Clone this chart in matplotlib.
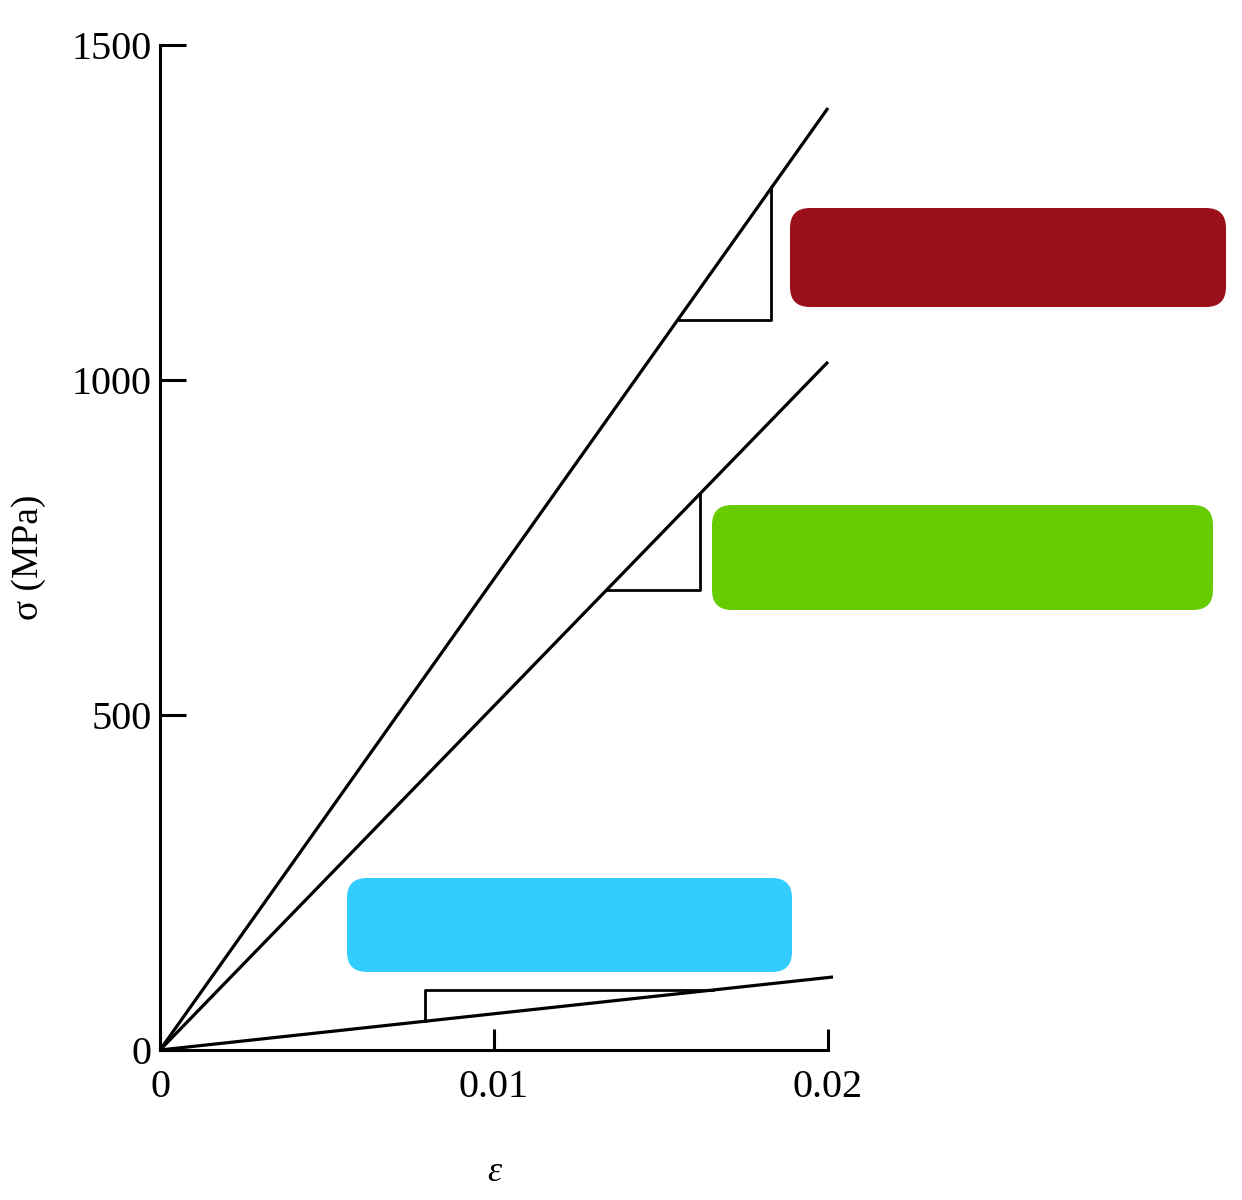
import matplotlib
matplotlib.use("Agg")
import matplotlib.pyplot as plt
from matplotlib.patches import FancyBboxPatch

plt.rcParams['font.family'] = ['Liberation Serif', 'DejaVu Serif']

# three straight stress-strain lines from the origin (end points)
line_eps = [[0, 0.0200], [0, 0.0200], [0, 0.02015]]
line_sig = [[0, 1406], [0, 1027], [0, 109]]

# slope triangles (polyline corners)
tri_eps = [[0.0155, 0.0183, 0.0183],
           [0.01338, 0.01617, 0.01617],
           [0.00793, 0.00793, 0.01655]]
tri_sig = [[1090, 1090, 1288],
           [687, 687, 830],
           [42.9, 89.5, 89.5]]

xticks = [0, 0.01, 0.02]
xtick_labels = ['0', '0.01', '0.02']
yticks = [0, 500, 1000, 1500]
ytick_labels = ['0', '500', '1000', '1500']

# label cover boxes: x0, y0 (top), x1, y1 (bottom) in pixels, colour
box_px = [(790, 208, 1226, 307), (712, 505, 1213, 610), (347, 878, 792, 972)]
box_colors = ['#9b0f1b', '#66cc00', '#33ccff']

W, H = 1242, 1200
fig = plt.figure(figsize=(W / 100, H / 100), dpi=100)
ax = fig.add_axes([160 / W, 150 / H, 668 / W, 1005 / H])

for e, s in zip(line_eps, line_sig):
    ax.plot(e, s, color='black', lw=2.3, clip_on=False, solid_capstyle='butt')
for e, s in zip(tri_eps, tri_sig):
    ax.plot(e, s, color='black', lw=2.0, clip_on=False)

ax.set_xlim(0, 0.02)
ax.set_ylim(0, 1500)
ax.spines['top'].set_visible(False)
ax.spines['right'].set_visible(False)
ax.spines['left'].set_linewidth(2.2)
ax.spines['bottom'].set_linewidth(2.2)

ax.set_xticks(xticks)
ax.set_xticklabels(xtick_labels)
ax.set_yticks(yticks)
ax.set_yticklabels(ytick_labels)
ax.tick_params(axis='y', direction='in', length=19, width=2.2, pad=6, labelsize=29)
ax.tick_params(axis='x', direction='in', length=15, width=2.2, pad=14, labelsize=29)

ax.set_ylabel('σ (MPa)', fontsize=27)
ax.yaxis.set_label_coords(-0.17, 0.49)
ax.set_xlabel('ε', fontsize=26, fontstyle='italic', labelpad=36)

for (x0, y0, x1, y1), c in zip(box_px, box_colors):
    r = 20
    patch = FancyBboxPatch((x0 + r, H - y1 + r), (x1 - x0) - 2 * r, (y1 - y0) - 2 * r,
                           boxstyle=f"round,pad={r},rounding_size={r}",
                           transform=None, facecolor=c, edgecolor='none',
                           clip_on=False)
    fig.patches.append(patch)

fig.savefig('out.png', dpi=100)
